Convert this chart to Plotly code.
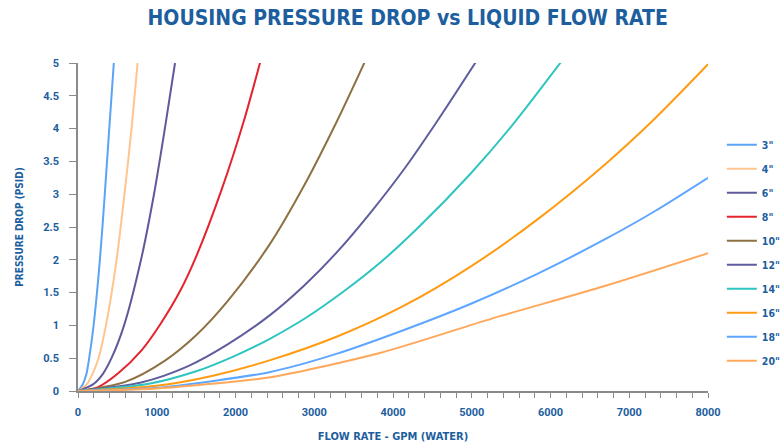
import plotly.graph_objects as go

# Series data (flow rate GPM, pressure drop PSID)
names = ['3"', '4"', '6"', '8"', '10"', '12"', '14"', '16"', '18"', '20"']
colors = ["#5ba3f5", "#ffc58f", "#5e5a9a", "#e5232d", "#8d7143", "#5f5d9e",
          "#2ec5c1", "#ff9b12", "#5ea6ff", "#ffa85c"]

x3 = [0, 60, 105, 142, 198, 278, 340, 397, 455]
y3 = [0, 0.1, 0.25, 0.5, 1, 2, 3, 4, 5]
x4 = [0, 110, 180, 260, 355, 490, 590, 680, 757]
y4 = [0, 0.1, 0.25, 0.5, 1, 2, 3, 4, 5]
x6 = [0, 190, 310, 425, 585, 800, 965, 1103, 1232]
y6 = [0, 0.1, 0.25, 0.5, 1, 2, 3, 4, 5]
x8 = [0, 255, 510, 807, 1041, 1308, 1508, 1827, 2102, 2315]
y8 = [0, 0.06, 0.27, 0.62, 1.01, 1.55, 2.07, 3.08, 4.1, 5.02]
x10 = [0, 600, 1100, 1500, 1900, 2442, 2866, 3291, 3643]
y10 = [0, 0.14, 0.46, 0.85, 1.37, 2.25, 3.12, 4.12, 5.02]
x12 = [0, 800, 1400, 1900, 2442, 2866, 3291, 3715, 4140, 4565, 5054]
y12 = [0, 0.13, 0.38, 0.71, 1.16, 1.6, 2.12, 2.72, 3.38, 4.12, 5.02]
x14 = [0, 900, 1500, 2000, 2442, 2900, 3376, 3850, 4311, 4990, 5500, 6136]
y14 = [0, 0.11, 0.3, 0.54, 0.8, 1.12, 1.52, 1.97, 2.48, 3.32, 4.03, 5.02]
x16 = [0, 1000, 1700, 2442, 3291, 4140, 4990, 5839, 6688, 7323, 8000]
y16 = [0, 0.08, 0.23, 0.47, 0.83, 1.3, 1.9, 2.62, 3.45, 4.15, 4.98]
x18 = [0, 1000, 1700, 2442, 3291, 4140, 4990, 5839, 6688, 7323, 8000]
y18 = [0, 0.05, 0.15, 0.29, 0.57, 0.93, 1.33, 1.79, 2.31, 2.74, 3.25]
x20 = [0, 1000, 1700, 2442, 3832, 5245, 6688, 8000]
y20 = [0, 0.04, 0.11, 0.21, 0.58, 1.1, 1.6, 2.1]

xs = [x3, x4, x6, x8, x10, x12, x14, x16, x18, x20]
ys = [y3, y4, y6, y8, y10, y12, y14, y16, y18, y20]

x_ticks = [0, 1000, 2000, 3000, 4000, 5000, 6000, 7000, 8000]
y_ticks = [0, 0.5, 1, 1.5, 2, 2.5, 3, 3.5, 4, 4.5, 5]

BLUE = "#1d5e9e"
AXIS = "#8a8a8a"
COND = "Liberation Sans Narrow, DejaVu Sans Condensed, Roboto"

fig = go.Figure()
for i, (n, c, xv, yv) in enumerate(zip(names, colors, xs, ys)):
    fig.add_trace(go.Scatter(
        x=xv, y=yv, name=n, mode="lines",
        line=dict(color=c, width=2, shape="spline", smoothing=0.8),
        legendgroup=f"g{i}",
    ))

fig.update_layout(
    width=781, height=448,
    margin=dict(l=78, r=73, t=63, b=57, autoexpand=False),
    paper_bgcolor="white", plot_bgcolor="white",
    title=dict(
        text="<b>HOUSING PRESSURE DROP vs LIQUID FLOW RATE</b>",
        x=0.522, xanchor="center", y=0.96, yanchor="middle",
        font=dict(family=COND, size=21, color=BLUE),
    ),
    legend=dict(
        x=1.022, xanchor="left", y=0.795, yanchor="top",
        font=dict(family=COND, size=10.5, color=BLUE, weight="bold"),
        tracegroupgap=5, traceorder="grouped",
        bgcolor="rgba(0,0,0,0)", itemwidth=30,
    ),
    xaxis=dict(
        range=[0, 8000], tickvals=x_ticks, ticktext=[str(v) for v in x_ticks],
        showgrid=False, zeroline=False, showline=True, linecolor=AXIS, linewidth=1.5,
        ticks="outside", ticklen=5, tickcolor=AXIS, tickwidth=1.2,
        minor=dict(dtick=200, ticks="outside", ticklen=5, tickcolor=AXIS, tickwidth=1.2),
        tickfont=dict(family="Roboto", size=11, color=BLUE, weight="bold"),
        ticklabelstandoff=5, automargin=False,
        title=dict(text="<b>FLOW RATE - GPM (WATER)</b>", standoff=14,
                   font=dict(family=COND, size=11, color=BLUE)),
    ),
    yaxis=dict(
        range=[0, 5], tickvals=y_ticks, ticktext=[f"{v:g}" for v in y_ticks],
        showgrid=False, zeroline=False, showline=True, linecolor=AXIS, linewidth=1.5,
        ticks="outside", ticklen=7, tickcolor=AXIS, tickwidth=1.2,
        tickfont=dict(family="Roboto", size=11, color=BLUE, weight="bold"),
        ticklabelstandoff=8, automargin=False,
        title=dict(text="<b>PRESSURE DROP (PSID)</b>", standoff=18,
                   font=dict(family=COND, size=10, color=BLUE)),
    ),
)

fig.write_html("out.html", config={"displayModeBar": False},
               post_script="document.body.style.margin='0px';document.body.style.padding='0px';")
